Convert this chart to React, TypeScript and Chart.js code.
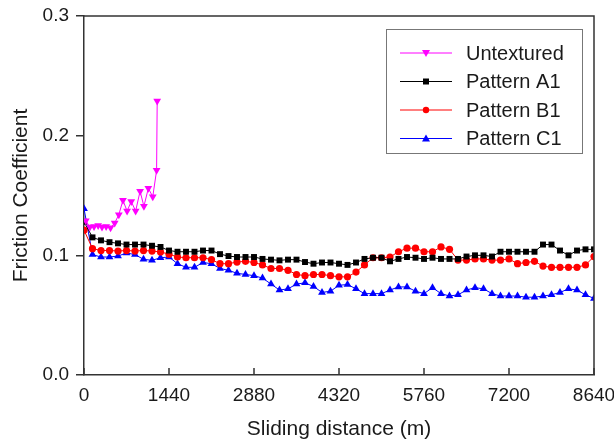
import React, { useEffect, useRef } from 'react';
import { Chart, registerables } from 'chart.js';
Chart.register(...registerables);

const distances = [
  0, 144, 288, 432, 576, 720, 864, 1008, 1152, 1296, 1440, 1584, 1728, 1872, 2016, 2160,
  2304, 2448, 2592, 2736, 2880, 3024, 3168, 3312, 3456, 3600, 3744, 3888, 4032, 4176, 4320,
  4464, 4608, 4752, 4896, 5040, 5184, 5328, 5472, 5616, 5760, 5904, 6048, 6192, 6336, 6480,
  6624, 6768, 6912, 7056, 7200, 7344, 7488, 7632, 7776, 7920, 8064, 8208, 8352, 8496, 8640,
];

const patternA1 = [
  0.128, 0.115, 0.1125, 0.111, 0.110, 0.109, 0.109, 0.109, 0.108, 0.107, 0.104, 0.103, 0.103,
  0.103, 0.104, 0.104, 0.101, 0.0994, 0.0986, 0.0986, 0.0986, 0.097, 0.0964, 0.0958, 0.0964,
  0.0964, 0.0944, 0.093, 0.094, 0.094, 0.093, 0.092, 0.094, 0.097, 0.098, 0.098, 0.095, 0.097,
  0.0986, 0.098, 0.097, 0.098, 0.097, 0.097, 0.097, 0.099, 0.100, 0.100, 0.099, 0.103, 0.103,
  0.103, 0.103, 0.103, 0.109, 0.109, 0.104, 0.100, 0.104, 0.105, 0.105,
];

const patternB1 = [
  0.121, 0.1056, 0.104, 0.104, 0.1036, 0.104, 0.1036, 0.104, 0.1036, 0.1028, 0.101, 0.0986,
  0.098, 0.098, 0.098, 0.0964, 0.093, 0.093, 0.0944, 0.095, 0.094, 0.092, 0.089, 0.089, 0.0875,
  0.084, 0.083, 0.084, 0.084, 0.083, 0.082, 0.082, 0.086, 0.092, 0.098, 0.098, 0.0986, 0.103,
  0.106, 0.106, 0.103, 0.103, 0.107, 0.105, 0.096, 0.096, 0.097, 0.097, 0.096, 0.096, 0.097,
  0.093, 0.094, 0.095, 0.091, 0.090, 0.090, 0.090, 0.090, 0.092, 0.099,
];

const patternC1 = [
  0.139, 0.1006, 0.0986, 0.0986, 0.0994, 0.102, 0.1006, 0.0967, 0.0958, 0.098, 0.0986, 0.093,
  0.090, 0.090, 0.094, 0.093, 0.089, 0.0875, 0.085, 0.084, 0.083, 0.081, 0.076, 0.071, 0.072,
  0.076, 0.077, 0.074, 0.069, 0.070, 0.075, 0.0756, 0.072, 0.068, 0.068, 0.068, 0.071, 0.0736,
  0.0736, 0.070, 0.068, 0.073, 0.068, 0.066, 0.067, 0.071, 0.073, 0.072, 0.068, 0.066, 0.066,
  0.066, 0.065, 0.065, 0.066, 0.067, 0.069, 0.072, 0.071, 0.067, 0.064,
];

const untexturedDistance = [
  30, 100, 170, 240, 305, 375, 450, 520, 590, 660, 730, 800, 875, 950, 1015, 1090, 1165, 1230, 1240,
];
const untexturedValues = [
  0.129, 0.1236, 0.124, 0.125, 0.1236, 0.124, 0.123, 0.127, 0.134, 0.146, 0.137, 0.145, 0.137,
  0.1536, 0.141, 0.156, 0.149, 0.171, 0.229,
];

const xTickValues = [0, 1440, 2880, 4320, 5760, 7200, 8640];
const yTickValues = [0, 0.1, 0.2, 0.3];
const seriesLabels = ['Untextured', 'Pattern A1', 'Pattern B1', 'Pattern C1'];
const seriesColors = ['#FF00FF', '#000000', '#FF0000', '#0000FF'];

const FONT = '"Liberation Sans", Arial, sans-serif';
const AXIS_COLOR = '#333333';

function toPoints(xs: number[], ys: number[]) {
  return ys.map((y, i) => ({ x: xs[i], y }));
}

function drawMarker(ctx: CanvasRenderingContext2D, kind: number, x: number, y: number, color: string) {
  ctx.save();
  ctx.fillStyle = color;
  ctx.beginPath();
  if (kind === 0) {
    ctx.moveTo(x - 4, y - 3);
    ctx.lineTo(x + 4, y - 3);
    ctx.lineTo(x, y + 4);
    ctx.closePath();
  } else if (kind === 1) {
    ctx.rect(x - 3, y - 3, 6, 6);
  } else if (kind === 2) {
    ctx.arc(x, y, 3.2, 0, Math.PI * 2);
  } else {
    ctx.moveTo(x - 4, y + 3);
    ctx.lineTo(x + 4, y + 3);
    ctx.lineTo(x, y - 4);
    ctx.closePath();
  }
  ctx.fill();
  ctx.restore();
}

const framePlugin = {
  id: 'frame',
  afterDraw(chart: any) {
    const { ctx, chartArea } = chart;
    const xScale = chart.scales.x;
    ctx.save();
    ctx.strokeStyle = AXIS_COLOR;
    ctx.lineWidth = 1.5;
    ctx.beginPath();
    ctx.moveTo(chartArea.left, chartArea.top);
    ctx.lineTo(chartArea.right, chartArea.top);
    ctx.lineTo(chartArea.right, chartArea.bottom);
    ctx.stroke();
    // inward x ticks
    ctx.beginPath();
    xTickValues.forEach((v) => {
      const px = xScale.getPixelForValue(v);
      ctx.moveTo(px, chartArea.bottom);
      ctx.lineTo(px, chartArea.bottom - 7);
    });
    ctx.stroke();

    // legend
    const left = chartArea.right - 208;
    const top = chartArea.top + 13;
    const w = 196;
    const h = 124;
    ctx.fillStyle = '#ffffff';
    ctx.fillRect(left, top, w, h);
    ctx.strokeStyle = '#777777';
    ctx.lineWidth = 1;
    ctx.strokeRect(left + 0.5, top + 0.5, w, h);
    ctx.font = `20px ${FONT}`;
    ctx.textBaseline = 'middle';
    ctx.textAlign = 'left';
    seriesLabels.forEach((label, i) => {
      const y = top + 24 + i * 28.5;
      ctx.strokeStyle = seriesColors[i];
      ctx.lineWidth = 1;
      ctx.beginPath();
      ctx.moveTo(left + 14, y);
      ctx.lineTo(left + 66, y);
      ctx.stroke();
      drawMarker(ctx, i, left + 40, y, seriesColors[i]);
      ctx.fillStyle = '#1a1a1a';
      ctx.fillText(label, left + 80, y + 1);
    });
    ctx.restore();
  },
};

export default function App() {
  const ref = useRef<HTMLCanvasElement>(null);
  useEffect(() => {
    if (!ref.current) return;
    const chart = new Chart(ref.current, {
      type: 'line',
      data: {
        datasets: [
          {
            label: seriesLabels[0],
            data: toPoints(untexturedDistance, untexturedValues),
            borderColor: seriesColors[0],
            backgroundColor: seriesColors[0],
            borderWidth: 1,
            pointStyle: 'triangle',
            rotation: 180,
            pointRadius: 4.5,
            pointBorderWidth: 0,
          },
          {
            label: seriesLabels[1],
            data: toPoints(distances, patternA1),
            borderColor: seriesColors[1],
            backgroundColor: seriesColors[1],
            borderWidth: 1,
            pointStyle: 'rect',
            pointRadius: 4.2,
            pointBorderWidth: 0,
          },
          {
            label: seriesLabels[2],
            data: toPoints(distances, patternB1),
            borderColor: seriesColors[2],
            backgroundColor: seriesColors[2],
            borderWidth: 1,
            pointStyle: 'circle',
            pointRadius: 3.6,
            pointBorderWidth: 0,
          },
          {
            label: seriesLabels[3],
            data: toPoints(distances, patternC1),
            borderColor: seriesColors[3],
            backgroundColor: seriesColors[3],
            borderWidth: 1,
            pointStyle: 'triangle',
            pointRadius: 4.5,
            pointBorderWidth: 0,
          },
        ],
      } as any,
      options: {
        animation: false,
        responsive: false,
        layout: { padding: { top: 16, right: 20, left: 0, bottom: 0 } },
        plugins: { legend: { display: false }, tooltip: { enabled: false } },
        scales: {
          x: {
            type: 'linear',
            min: 0,
            max: 8640,
            afterBuildTicks: (scale: any) => {
              scale.ticks = xTickValues.map((v) => ({ value: v }));
            },
            afterFit: (scale: any) => {
              scale.height = 67;
              scale.paddingLeft = 0;
              scale.paddingRight = 0;
            },
            grid: { display: true, drawOnChartArea: false, drawTicks: false },
            border: { display: true, color: AXIS_COLOR, width: 1.5 },
            ticks: {
              color: '#1a1a1a',
              font: { family: FONT, size: 19 },
              padding: 9,
              maxRotation: 0,
              autoSkip: false,
              callback: (v: any) => String(v),
            },
            title: {
              display: true,
              text: 'Sliding distance (m)',
              color: '#1a1a1a',
              font: { family: FONT, size: 21 },
              padding: { top: 0, bottom: 0 },
            },
          },
          y: {
            type: 'linear',
            min: 0,
            max: 0.3,
            afterBuildTicks: (scale: any) => {
              scale.ticks = yTickValues.map((v) => ({ value: v }));
            },
            afterFit: (scale: any) => {
              scale.width = 84;
              scale.paddingTop = 0;
              scale.paddingBottom = 0;
            },
            grid: { display: true, drawOnChartArea: false, drawTicks: true, tickLength: 8, color: AXIS_COLOR, lineWidth: 1.5 },
            border: { display: true, color: AXIS_COLOR, width: 1.5 },
            ticks: {
              color: '#1a1a1a',
              font: { family: FONT, size: 19 },
              padding: 7,
              callback: (v: any) => Number(v).toFixed(1),
            },
            title: {
              display: true,
              text: 'Friction Coefficient',
              color: '#1a1a1a',
              font: { family: FONT, size: 21 },
              padding: { top: 9, bottom: 0 },
            },
          },
        },
      } as any,
      plugins: [framePlugin],
    });
    return () => chart.destroy();
  }, []);

  return (
    <div style={{ position: 'absolute', left: 0, top: 0, width: 614, height: 442, background: '#fff' }}>
      <canvas ref={ref} width={614} height={442} />
    </div>
  );
}
